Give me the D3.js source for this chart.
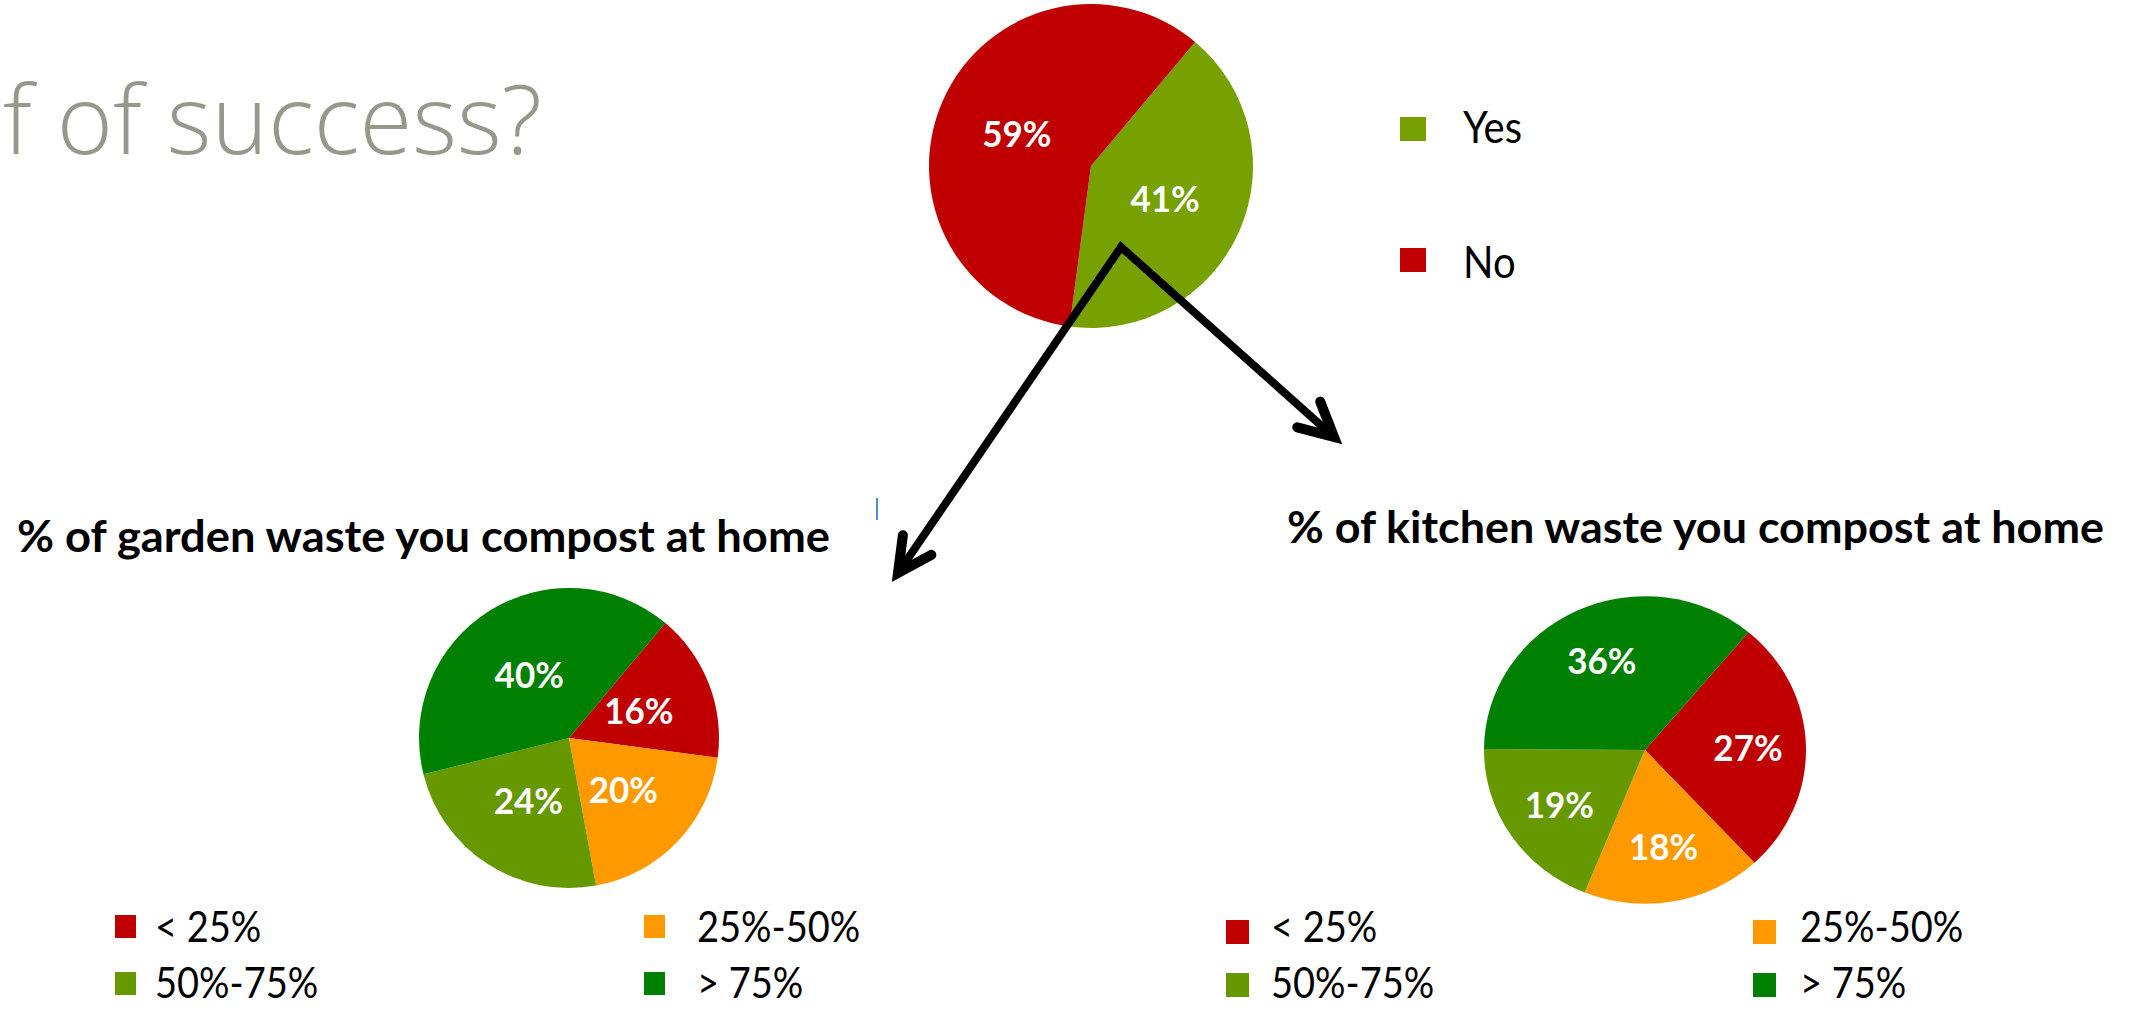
<!DOCTYPE html>
<html lang="en">
<head>
  <meta charset="UTF-8">
  <title>Proof of success?</title>
  <script src="https://cdn.jsdelivr.net/npm/d3@7"></script>
  <style>
    body { margin: 0; background: #fff; }
    svg { display: block; }
    text { font-family: Lato, "Open Sans", sans-serif; }
  </style>
</head>
<body>
<svg id="chart" width="2136" height="1010"></svg>

<script>
// data
var topLabels = ["Yes", "No"];
var topValues = [41, 59];
var topColors = ["#76a100", "#c00000"];

var bandLabels = ["< 25%", "25%-50%", "50%-75%", "> 75%"];
var bandColors = ["#c00000", "#ff9900", "#669900", "#008000"];
var gardenValues = [16, 20, 24, 40];
var kitchenValues = [27, 18, 19, 36];

var gardenTitle = "% of garden waste you compost at home";
var kitchenTitle = "% of kitchen waste you compost at home";

var svg = d3.select("#chart");
var deg = Math.PI / 180;

// make Lato look a bit more like the narrow slide font:
// draw it taller, then squeeze it back to the width it had at `base` size
function narrow(sel, base, size) {
  sel.style("font-size", base + "px");
  sel.each(function() {
    var w = this.getComputedTextLength();
    d3.select(this).style("font-size", size + "px")
      .attr("textLength", w).attr("lengthAdjust", "spacingAndGlyphs");
  });
}

// heading, cut at the left edge like on the slide
svg.append("text")
  .attr("x", 542).attr("y", 154)
  .attr("text-anchor", "end")
  .style("font-family", "'Open Sans', sans-serif")
  .style("font-weight", 300)
  .style("font-size", "96px")
  .attr("fill", "#97978d")
  .text("f of success?");

// small stray mark from the slide
svg.append("line").attr("x1", 877).attr("x2", 877).attr("y1", 498).attr("y2", 520)
  .attr("stroke", "#4a8fd8").attr("stroke-width", 2);

function drawPie(opt) {
  var pie = d3.pie().sort(null).startAngle(opt.start * deg).endAngle(opt.start * deg + 2 * Math.PI);
  var arcs = pie(opt.values);
  var arc = d3.arc().innerRadius(0).outerRadius(opt.r);
  var labelArc = d3.arc().innerRadius(opt.r * opt.lr).outerRadius(opt.r * opt.lr);

  var g = svg.append("g")
    .attr("transform", "translate(" + opt.cx + "," + opt.cy + ") scale(1," + (opt.sy || 1) + ")");
  g.selectAll("path").data(arcs).enter().append("path")
    .attr("d", arc)
    .attr("fill", function(d, i) { return opt.colors[i]; });

  var t = svg.append("g")
    .attr("transform", "translate(" + opt.cx + "," + opt.cy + ")")
    .selectAll("text").data(arcs).enter().append("text")
    .attr("x", function(d) { return labelArc.centroid(d)[0]; })
    .attr("y", function(d) { return labelArc.centroid(d)[1] * (opt.sy || 1); })
    .attr("dy", "0.36em")
    .attr("text-anchor", "middle")
    .attr("fill", "#fff")
    .style("font-weight", 700)
    .text(function(d) { return d.data + "%"; });
  narrow(t, 35, 37);
}

function drawLegend(opt) {
  var g = svg.append("g");
  opt.labels.forEach(function(lab, i) {
    var col = opt.cols[i], row = opt.rows[i];
    g.append("rect")
      .attr("x", opt.xs[col]).attr("y", opt.ys[row])
      .attr("width", opt.w).attr("height", opt.h)
      .attr("fill", opt.colors[i]);
    var t = g.append("text")
      .attr("x", opt.xs[col] + opt.dx[col])
      .attr("y", opt.base[row])
      .attr("fill", "#000")
      .text(lab);
    narrow(t, opt.size, opt.size + 4);
  });
}

function title(txt, x, y, w) {
  svg.append("text")
    .attr("x", x).attr("y", y)
    .attr("textLength", w)
    .attr("lengthAdjust", "spacingAndGlyphs")
    .style("font-weight", 700)
    .style("font-size", "43px")
    .attr("fill", "#000")
    .text(txt);
}

// top pie: do you compost at home
drawPie({ values: topValues, colors: topColors, cx: 1091, cy: 166, r: 162, start: 40, lr: 0.5 });
drawLegend({
  labels: topLabels, colors: topColors,
  cols: [0, 0], rows: [0, 1],
  xs: [1400], dx: [63], ys: [117, 248], base: [143, 278],
  w: 26, h: 24, size: 40
});

// garden
title(gardenTitle, 17, 552, 813);
drawPie({ values: gardenValues, colors: bandColors, cx: 569, cy: 738, r: 150, start: 40, lr: 0.5 });
drawLegend({
  labels: bandLabels, colors: bandColors,
  cols: [0, 1, 0, 1], rows: [0, 0, 1, 1],
  xs: [115, 644], dx: [40, 53], ys: [915, 972], base: [942, 998],
  w: 21, h: 23, size: 38
});

// kitchen
title(kitchenTitle, 1287, 543, 817);
drawPie({ values: kitchenValues, colors: bandColors, cx: 1645, cy: 750, r: 161, sy: 0.955, start: 40, lr: 0.64 });
drawLegend({
  labels: bandLabels, colors: bandColors,
  cols: [0, 1, 0, 1], rows: [0, 0, 1, 1],
  xs: [1226, 1753], dx: [45, 47], ys: [920, 973], base: [942, 998],
  w: 23, h: 24, size: 38
});

// arrows from the "Yes" slice
var apex = [1121, 247], tips = [[898, 573], [1334, 437]];
var arrows = svg.append("g")
  .attr("fill", "none").attr("stroke", "#000")
  .attr("stroke-width", 8).attr("stroke-linecap", "round").attr("stroke-linejoin", "miter");
arrows.append("path")
  .attr("d", d3.line()([tips[0], apex, tips[1]]));
tips.forEach(function(t) {
  var a = Math.atan2(apex[1] - t[1], apex[0] - t[0]), len = 38;
  var p1 = [t[0] + len * Math.cos(a - 27 * deg), t[1] + len * Math.sin(a - 27 * deg)];
  var p2 = [t[0] + len * Math.cos(a + 27 * deg), t[1] + len * Math.sin(a + 27 * deg)];
  arrows.append("path").attr("d", d3.line()([p1, t, p2])).attr("stroke-width", 10);
});
</script>
</body>
</html>
